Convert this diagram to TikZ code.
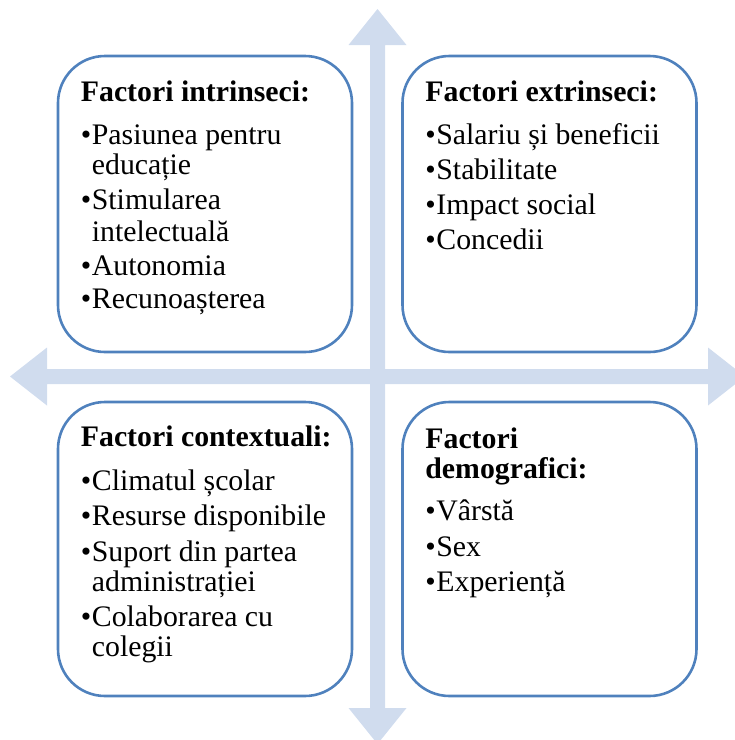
\documentclass[tikz,border=0pt]{standalone}
\usepackage{fontspec}
\setmainfont{Liberation Serif}
\usetikzlibrary{calc}
\definecolor{boxblue}{HTML}{4F81BD}
\definecolor{arrowblue}{HTML}{D0DCEE}
\newcommand\factbul{\makebox[11pt][l]{\textbullet}}
\newcommand\factcont{\hspace*{11pt}}
\begin{document}
\begin{tikzpicture}[x=1pt,y=-1pt,line join=round,font=\fontsize{29.8}{31}\selectfont,
  factor/.style={draw=boxblue,line width=2.6pt,rounded corners=47pt,minimum width=294pt,minimum height=296pt,inner sep=0pt},
  rowtext/.style={anchor=base west,inner sep=0pt}]
  \useasboundingbox (0,0) rectangle (735,740);
  \clip (0,0) rectangle (735,740);
  \def\cx{377.5}
  \def\cy{376.5}
  \def\w{7.5}
  \def\hw{29}
  % double arrows
  \fill[arrowblue] (\cx,9) -- (\cx+\hw,45) -- (\cx+\w,45) -- (\cx+\w,708) -- (\cx+\hw,708)
    -- (\cx,744) -- (\cx-\hw,708) -- (\cx-\w,708) -- (\cx-\w,45) -- (\cx-\hw,45) -- cycle;
  \fill[arrowblue] (10,\cy) -- (47,\cy-\hw) -- (47,\cy-\w) -- (708,\cy-\w) -- (708,\cy-\hw)
    -- (745,\cy) -- (708,\cy+\hw) -- (708,\cy+\w) -- (47,\cy+\w) -- (47,\cy+\hw) -- cycle;
  % the four boxes
  \node[factor] (intr) at (205,204) {};
  \node[factor] (extr) at (549.5,204) {};
  \node[factor,minimum height=294pt] (cont) at (205,549) {};
  \node[factor,minimum height=294pt] (demo) at (549.5,549) {};
  % texts
  \foreach \t/\d [count=\i] in {{\bfseries Factori intrinseci:}/47,\factbul Pasiunea pentru/90,\factcont educație/120,
      \factbul Stimularea/155,\factcont intelectuală/187,\factbul Autonomia/221,\factbul Recunoașterea/254}
    \node[rowtext] (intr\i) at ($(intr.north west)+(24,\d)$) {\t};
  \foreach \t/\d [count=\i] in {{\bfseries Factori extrinseci:}/47,\factbul Salariu și beneficii/90,\factbul Stabilitate/124.5,
      \factbul Impact social/160,\factbul Concedii/195}
    \node[rowtext] (extr\i) at ($(extr.north west)+(24,\d)$) {\t};
  \foreach \t/\d [count=\i] in {{\bfseries Factori contextuali:}/46,\factbul Climatul școlar/90,\factbul Resurse disponibile/125,
      \factbul Suport din partea/161,\factcont administrației/191,\factbul Colaborarea cu/226,\factcont colegii/256}
    \node[rowtext] (cont\i) at ($(cont.north west)+(24,\d)$) {\t};
  \foreach \t/\d [count=\i] in {{\bfseries Factori}/48,{\bfseries demografici:}/78,\factbul Vârstă/120,
      \factbul Sex/156,\factbul Experiență/191}
    \node[rowtext] (demo\i) at ($(demo.north west)+(24,\d)$) {\t};
\end{tikzpicture}
\end{document}
